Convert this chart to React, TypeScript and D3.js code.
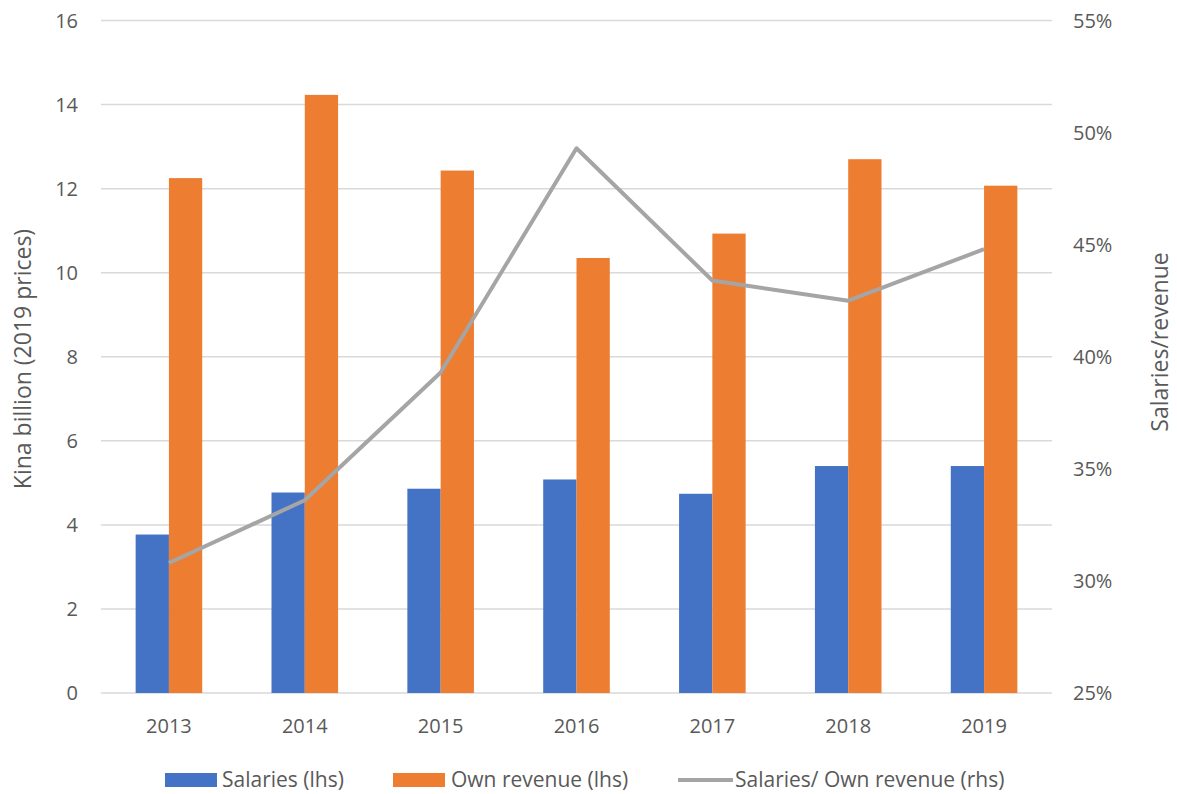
import { useEffect, useRef } from 'react';
import * as d3 from 'd3';

const years = ['2013', '2014', '2015', '2016', '2017', '2018', '2019'];
const salaries = [3.77, 4.77, 4.86, 5.08, 4.74, 5.4, 5.4];
const ownRevenue = [12.25, 14.23, 12.43, 10.35, 10.93, 12.7, 12.07];
const salaryShare = [30.8, 33.6, 39.3, 49.3, 43.4, 42.5, 44.8];
const leftTicks = [0, 2, 4, 6, 8, 10, 12, 14, 16];
const rightTicks = [25, 30, 35, 40, 45, 50, 55];

const barSeries = [
  { key: 'Salaries (lhs)', values: salaries, color: '#4472C4' },
  { key: 'Own revenue (lhs)', values: ownRevenue, color: '#ED7D31' },
];

export default function App() {
  const svgRef = useRef<SVGSVGElement>(null);

  useEffect(() => {
    if (!svgRef.current) return;

    const width = 1177;
    const height = 794;
    const left = 101;
    const right = 1052;
    const top = 20.5;
    const bottom = 693;
    const font = "'Open Sans', 'DejaVu Sans', sans-serif";
    const textColor = '#595959';

    const svg = d3.select(svgRef.current);
    svg.selectAll('*').remove();

    const x = d3
      .scaleBand()
      .domain(years)
      .range([left, right])
      .paddingInner(0.51)
      .paddingOuter(0.255);

    const xInner = d3
      .scaleBand()
      .domain(barSeries.map((s) => s.key))
      .range([0, x.bandwidth()]);

    const yLeft = d3.scaleLinear().domain([0, 16]).range([bottom, top]);
    const yRight = d3.scaleLinear().domain([25, 55]).range([bottom, top]);

    // gridlines
    svg
      .append('g')
      .selectAll('line')
      .data(leftTicks)
      .enter()
      .append('line')
      .attr('x1', left)
      .attr('x2', right)
      .attr('y1', (d) => yLeft(d))
      .attr('y2', (d) => yLeft(d))
      .attr('stroke', '#D9D9D9')
      .attr('stroke-width', 1.5);

    // left tick labels
    svg
      .append('g')
      .selectAll('text')
      .data(leftTicks)
      .enter()
      .append('text')
      .attr('x', 78)
      .attr('y', (d) => yLeft(d))
      .attr('dy', '0.35em')
      .attr('text-anchor', 'end')
      .attr('font-family', font)
      .attr('font-size', 20)
      .attr('fill', textColor)
      .text((d) => d);

    // right tick labels
    svg
      .append('g')
      .selectAll('text')
      .data(rightTicks)
      .enter()
      .append('text')
      .attr('x', 1073)
      .attr('y', (d) => yRight(d))
      .attr('dy', '0.35em')
      .attr('font-family', font)
      .attr('font-size', 20)
      .attr('fill', textColor)
      .text((d) => `${d}%`);

    // bars
    barSeries.forEach((s) => {
      svg
        .append('g')
        .selectAll('rect')
        .data(s.values)
        .enter()
        .append('rect')
        .attr('x', (_, i) => x(years[i])! + xInner(s.key)!)
        .attr('y', (d) => yLeft(d))
        .attr('width', xInner.bandwidth())
        .attr('height', (d) => yLeft(0) - yLeft(d))
        .attr('fill', s.color);
    });

    // ratio line
    const line = d3
      .line<number>()
      .x((_, i) => x(years[i])! + x.bandwidth() / 2)
      .y((d) => yRight(d));

    svg
      .append('path')
      .datum(salaryShare)
      .attr('d', line)
      .attr('fill', 'none')
      .attr('stroke', '#A5A5A5')
      .attr('stroke-width', 4)
      .attr('stroke-linejoin', 'round');

    // x labels
    svg
      .append('g')
      .selectAll('text')
      .data(years)
      .enter()
      .append('text')
      .attr('x', (d) => x(d)! + x.bandwidth() / 2)
      .attr('y', 733)
      .attr('text-anchor', 'middle')
      .attr('font-family', font)
      .attr('font-size', 20)
      .attr('fill', textColor)
      .text((d) => d);

    // axis titles
    svg
      .append('text')
      .attr('transform', `translate(31, 359) rotate(-90)`)
      .attr('text-anchor', 'middle')
      .attr('font-family', font)
      .attr('font-size', 23)
      .attr('fill', textColor)
      .text('Kina billion (2019 prices)');

    svg
      .append('text')
      .attr('transform', `translate(1168, 342) rotate(-90)`)
      .attr('text-anchor', 'middle')
      .attr('font-family', font)
      .attr('font-size', 23)
      .attr('fill', textColor)
      .text('Salaries/revenue');

    // legend
    const legend = svg.append('g').attr('font-family', font).attr('font-size', 21).attr('fill', textColor);
    const legendItems = [
      { label: barSeries[0].key, color: barSeries[0].color, type: 'rect', x: 165, tx: 222 },
      { label: barSeries[1].key, color: barSeries[1].color, type: 'rect', x: 393, tx: 451 },
      { label: 'Salaries/ Own revenue (rhs)', color: '#A5A5A5', type: 'line', x: 678, tx: 735 },
    ];
    legendItems.forEach((item) => {
      if (item.type === 'rect') {
        legend
          .append('rect')
          .attr('x', item.x)
          .attr('y', 773)
          .attr('width', 52)
          .attr('height', 14)
          .attr('fill', item.color);
      } else {
        legend
          .append('line')
          .attr('x1', item.x)
          .attr('x2', item.x + 55)
          .attr('y1', 780)
          .attr('y2', 780)
          .attr('stroke', item.color)
          .attr('stroke-width', 4);
      }
      legend
        .append('text')
        .attr('x', item.tx)
        .attr('y', 780)
        .attr('dy', '0.35em')
        .text(item.label);
    });

    svg.attr('width', width).attr('height', height);
  }, []);

  return (
    <div style={{ position: 'absolute', left: 0, top: 0 }}>
      <svg ref={svgRef} width={1177} height={794} style={{ display: 'block', background: '#fff' }}></svg>
    </div>
  );
}
